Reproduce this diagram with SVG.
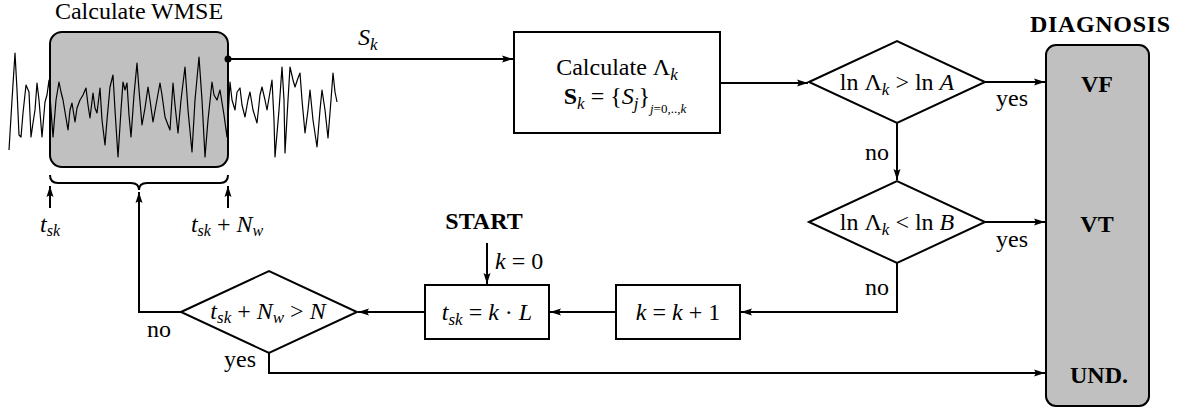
<svg xmlns="http://www.w3.org/2000/svg" width="1177" height="410" viewBox="0 0 1177 410">
<style>
text{font-family:"Liberation Serif","Times New Roman",serif;fill:#000;font-size:24px}
.m{font-style:italic}
.b{font-weight:bold}
.sub{font-size:17px}
.box{fill:#fff;stroke:#000;stroke-width:2}
.grey{fill:#c0c0c0;stroke:#000;stroke-width:2}
.ln{fill:none;stroke:#000;stroke-width:2}
</style>
<defs>
<marker id="ah" markerUnits="userSpaceOnUse" markerWidth="12" markerHeight="8" refX="11" refY="4" orient="auto">
<path d="M0,0.5 L11,4 L0,7.5 L2,4 z" fill="#000"/>
</marker>
</defs>

<g id="wmse">
<rect class="grey" x="50" y="32" width="178" height="135" rx="12"/>
<polyline fill="none" stroke="#000" stroke-width="1.2" stroke-linejoin="round" points="9,150 12,100 15,53 17,90 19,135 21,137 23,113 26,85 29,92 31,137 33,123 35,110 37,83 39,100 42,137 45,102 47,95 49,80 51,110 53,137 56,100 59,82 61,92 63,100 66,118 68,130 70,110 72,103 75,122 77,108 80,100 83,95 86,88 88,105 90,118 93,93 95,108 97,113 100,88 102,120 105,145 107,120 110,87 113,75 115,110 118,157 121,110 123,82 125,90 127,83 129,115 131,137 134,95 137,63 139,90 142,125 145,108 148,87 150,100 153,122 156,105 160,83 162,95 165,117 168,125 170,130 173,83 175,105 178,133 181,100 185,67 188,110 192,152 195,100 199,57 202,100 205,157 208,120 212,82 214,95 217,100 220,90 224,115 227,137 230,82 232,100 235,110 237,92 240,88 242,105 245,117 248,100 250,92 253,110 257,123 260,95 262,87 265,100 267,110 270,92 272,80 274,120 275,157 279,110 282,67 284,100 285,153 288,100 290,67 293,80 295,87 298,78 300,73 302,100 305,133 308,110 310,90 313,120 317,147 320,110 322,90 325,110 328,138 331,100 333,73 335,92 337,102"/>
<text x="139" y="19" text-anchor="middle">Calculate WMSE</text>
<circle cx="228" cy="59" r="3.5" fill="#000"/>
<path class="ln" d="M50,175 Q50,183 58,183 L131,183 Q139,183 139,190 Q139,183 147,183 L220,183 Q228,183 228,175"/>
<text x="50" y="232" text-anchor="middle" font-size="22"><tspan class="m">t</tspan><tspan class="m" font-size="16" dy="4">sk</tspan></text>
<text x="227" y="232" text-anchor="middle" font-size="22"><tspan class="m">t</tspan><tspan class="m" font-size="16" dy="4">sk</tspan><tspan dy="-4"> + </tspan><tspan class="m">N</tspan><tspan class="m" font-size="16" dy="4">w</tspan></text>
</g>

<g id="calc">
<rect class="box" x="514" y="32" width="206" height="101"/>
<text x="617" y="75" text-anchor="middle">Calculate Λ<tspan class="m sub" dy="5">k</tspan></text>
<text x="625" y="104" text-anchor="middle"><tspan class="b">S</tspan><tspan class="m sub" dy="5">k</tspan><tspan dy="-5"> = {</tspan><tspan class="m">S</tspan><tspan class="m sub" dy="5">j</tspan><tspan dy="-5">}</tspan><tspan font-size="13" dy="9"><tspan class="m">j</tspan>=0,..,<tspan class="m">k</tspan></tspan></text>
</g>

<g id="d1">
<polygon class="box" points="809,82 897,41 985,82 897,123"/>
<text x="897" y="90" text-anchor="middle">ln Λ<tspan class="m sub" dy="5">k</tspan><tspan dy="-5"> &gt; ln </tspan><tspan class="m">A</tspan></text>
</g>

<g id="d2">
<polygon class="box" points="809,222 897,181 985,222 897,263"/>
<text x="897" y="230" text-anchor="middle">ln Λ<tspan class="m sub" dy="5">k</tspan><tspan dy="-5"> &lt; ln </tspan><tspan class="m">B</tspan></text>
</g>

<g id="diagnosis">
<text x="1100" y="32" text-anchor="middle" class="b" font-size="20" textLength="140" lengthAdjust="spacing">DIAGNOSIS</text>
<rect class="grey" x="1046" y="45" width="103" height="361" rx="10"/>
<text x="1097" y="92" text-anchor="middle" class="b">VF</text>
<text x="1097" y="232" text-anchor="middle" class="b">VT</text>
<text x="1099" y="383" text-anchor="middle" class="b">UND.</text>
</g>

<g id="start">
<text x="484" y="229" text-anchor="middle" class="b" font-size="21">START</text>
<text x="495" y="269"><tspan class="m">k</tspan> = 0</text>
</g>

<g id="tsk">
<rect class="box" x="425" y="285" width="124" height="54"/>
<text x="487" y="320" text-anchor="middle"><tspan class="m">t</tspan><tspan class="m sub" dy="5">sk</tspan><tspan dy="-5"> = </tspan><tspan class="m">k</tspan> · <tspan class="m">L</tspan></text>
</g>

<g id="kinc">
<rect class="box" x="616" y="285" width="124" height="54"/>
<text x="678" y="320" text-anchor="middle"><tspan class="m">k</tspan> = <tspan class="m">k</tspan> + 1</text>
</g>

<g id="d3">
<polygon class="box" points="181,312 269,271 357,312 269,353"/>
<text x="268" y="319" text-anchor="middle" font-size="23"><tspan class="m">t</tspan><tspan class="m sub" dy="4">sk</tspan><tspan dy="-4"> + </tspan><tspan class="m">N</tspan><tspan class="m sub" dy="4">w</tspan><tspan dy="-4"> &gt; </tspan><tspan class="m">N</tspan></text>
</g>

<g id="connectors">
<line class="ln" x1="228" y1="59" x2="513" y2="59" marker-end="url(#ah)"/>
<text x="358" y="45"><tspan class="m">S</tspan><tspan class="m sub" dy="5">k</tspan></text>
<line class="ln" x1="720" y1="83" x2="808" y2="83" marker-end="url(#ah)"/>
<line class="ln" x1="985" y1="82" x2="1045" y2="82" marker-end="url(#ah)"/>
<text x="1012" y="106" text-anchor="middle">yes</text>
<line class="ln" x1="897" y1="123" x2="897" y2="180" marker-end="url(#ah)"/>
<text x="877" y="160" text-anchor="middle">no</text>
<line class="ln" x1="985" y1="222" x2="1045" y2="222" marker-end="url(#ah)"/>
<text x="1012" y="247" text-anchor="middle">yes</text>
<polyline class="ln" points="897,263 897,312 741,312" marker-end="url(#ah)"/>
<text x="877" y="295" text-anchor="middle">no</text>
<line class="ln" x1="616" y1="312" x2="550" y2="312" marker-end="url(#ah)"/>
<line class="ln" x1="425" y1="312" x2="358" y2="312" marker-end="url(#ah)"/>
<line class="ln" x1="487" y1="243" x2="487" y2="284" marker-end="url(#ah)"/>
<polyline class="ln" points="181,312 139,312 139,192" marker-end="url(#ah)"/>
<text x="159" y="337" text-anchor="middle">no</text>
<polyline class="ln" points="269,353 269,373 1045,373" marker-end="url(#ah)"/>
<text x="240" y="367" text-anchor="middle">yes</text>
<line class="ln" x1="50" y1="208" x2="50" y2="186" marker-end="url(#ah)"/>
<line class="ln" x1="228" y1="208" x2="228" y2="186" marker-end="url(#ah)"/>
</g>
</svg>
